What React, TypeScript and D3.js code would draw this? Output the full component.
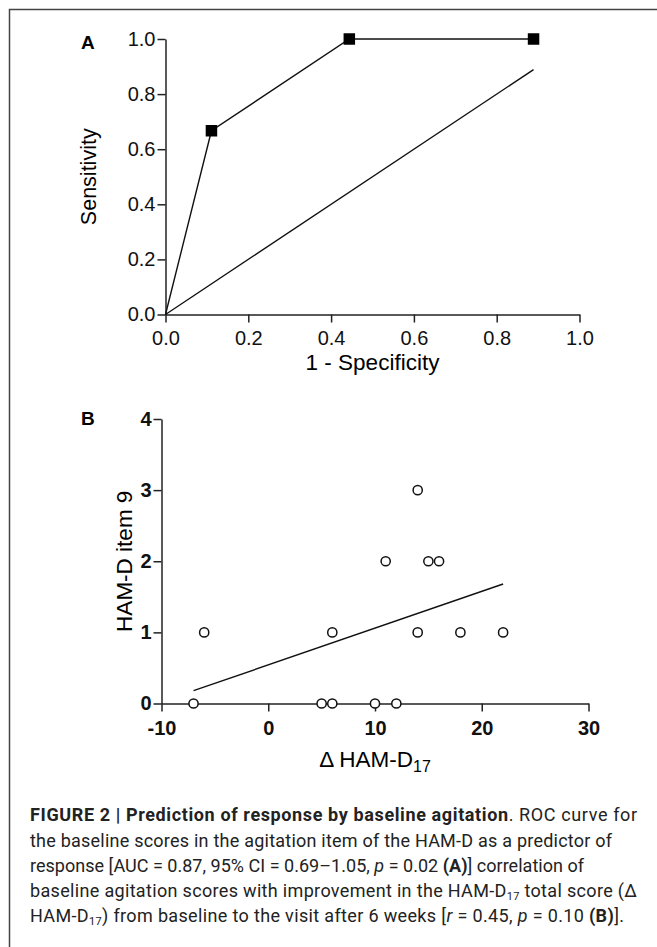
import React, { useEffect, useRef } from 'react';
import * as d3 from 'd3';

// Panel A: ROC curve
const rocFpr = [0, 0.111, 0.444, 0.889];
const rocSens = [0, 0.667, 1.0, 1.0];
const chanceX = [0, 0.889];
const chanceY = [0, 0.889];
const rocTicks = [0, 0.2, 0.4, 0.6, 0.8, 1.0];

// Panel B: scatter of delta HAM-D17 vs item 9
const deltaHam = [-7, -6, 5, 6, 6, 10, 12, 11, 14, 14, 15, 16, 18, 22];
const item9 = [0, 1, 0, 0, 1, 0, 0, 2, 3, 1, 2, 2, 1, 1];
const fitX = [-7, 22];
const fitY = [0.18, 1.68];
const bXTicks = [-10, 0, 10, 20, 30];
const bYTicks = [0, 1, 2, 3, 4];

const W = 657;
const H = 947;
const axisFont = "'Liberation Sans', Arial, Helvetica, sans-serif";
const capFont = "Roboto, 'Liberation Sans', sans-serif";

const App = () => {
    const gRef = useRef(null);

    useEffect(() => {
        const g = d3.select(gRef.current);
        g.selectAll('*').remove();

        // frame (top and left rule)
        g.append('path')
            .attr('d', `M9.5,${H} V9.5 H${W}`)
            .attr('fill', 'none')
            .attr('stroke', '#444')
            .attr('stroke-width', 1.5);

        const styleAxis = (sel, bold) => {
            sel.attr('font-family', axisFont).attr('font-size', 20);
            sel.selectAll('path, line').attr('stroke', '#222').attr('stroke-width', 1.5);
            sel.selectAll('text').attr('fill', '#111').attr('font-weight', bold ? 'bold' : 'normal');
        };

        // ---------- Panel A ----------
        const xA = d3.scaleLinear().domain([0, 1]).range([165.5, 579.5]);
        const yA = d3.scaleLinear().domain([0, 1]).range([314.5, 39]);

        g.append('g')
            .attr('transform', `translate(0,${yA(0)})`)
            .call(d3.axisBottom(xA).tickValues(rocTicks).tickFormat(d3.format('.1f'))
                .tickSize(8).tickSizeOuter(0).tickPadding(8))
            .call(s => styleAxis(s, false));

        g.append('g')
            .attr('transform', `translate(${xA(0)},0)`)
            .call(d3.axisLeft(yA).tickValues(rocTicks).tickFormat(d3.format('.1f'))
                .tickSize(8).tickSizeOuter(0).tickPadding(2))
            .call(s => styleAxis(s, false));

        const lineA = d3.line()
            .x((d, i) => xA(rocFpr[i]))
            .y((d, i) => yA(rocSens[i]));
        g.append('path')
            .attr('d', lineA(rocFpr))
            .attr('fill', 'none')
            .attr('stroke', '#111')
            .attr('stroke-width', 1.4);

        const chance = d3.line()
            .x((d, i) => xA(chanceX[i]))
            .y((d, i) => yA(chanceY[i]));
        g.append('path')
            .attr('d', chance(chanceX))
            .attr('fill', 'none')
            .attr('stroke', '#111')
            .attr('stroke-width', 1.4);

        const sq = 11.5;
        rocFpr.forEach((fx, i) => {
            if (fx === 0) return;
            g.append('rect')
                .attr('x', xA(fx) - sq / 2)
                .attr('y', yA(rocSens[i]) - sq / 2)
                .attr('width', sq)
                .attr('height', sq)
                .attr('fill', '#000');
        });

        g.append('text')
            .attr('x', 81).attr('y', 49)
            .attr('font-family', axisFont).attr('font-size', 19).attr('font-weight', 'bold')
            .text('A');

        g.append('text')
            .attr('transform', `translate(96,${(yA(0) + yA(1)) / 2}) rotate(-90)`)
            .attr('text-anchor', 'middle')
            .attr('font-family', axisFont).attr('font-size', 21.5)
            .text('Sensitivity');

        g.append('text')
            .attr('x', (xA(0) + xA(1)) / 2).attr('y', 370)
            .attr('text-anchor', 'middle')
            .attr('font-family', axisFont).attr('font-size', 22.5)
            .text('1 - Specificity');

        // ---------- Panel B ----------
        const xB = d3.scaleLinear().domain([-10, 30]).range([161.5, 588.5]);
        const yB = d3.scaleLinear().domain([0, 4]).range([703.5, 419]);

        g.append('g')
            .attr('transform', `translate(0,${yB(0)})`)
            .call(d3.axisBottom(xB).tickValues(bXTicks).tickFormat(d => String(d))
                .tickSize(8).tickSizeOuter(0).tickPadding(9))
            .call(s => styleAxis(s, true));

        g.append('g')
            .attr('transform', `translate(${xB(-10)},0)`)
            .call(d3.axisLeft(yB).tickValues(bYTicks).tickFormat(d => String(d))
                .tickSize(8).tickSizeOuter(0).tickPadding(2))
            .call(s => styleAxis(s, true));

        const fit = d3.line()
            .x((d, i) => xB(fitX[i]))
            .y((d, i) => yB(fitY[i]));
        g.append('path')
            .attr('d', fit(fitX))
            .attr('fill', 'none')
            .attr('stroke', '#111')
            .attr('stroke-width', 1.4);

        deltaHam.forEach((dx, i) => {
            g.append('circle')
                .attr('cx', xB(dx))
                .attr('cy', yB(item9[i]))
                .attr('r', 4.6)
                .attr('fill', '#fff')
                .attr('stroke', '#111')
                .attr('stroke-width', 1.5);
        });

        g.append('text')
            .attr('x', 81).attr('y', 425)
            .attr('font-family', axisFont).attr('font-size', 19).attr('font-weight', 'bold')
            .text('B');

        g.append('text')
            .attr('transform', `translate(132,${(yB(0) + yB(4)) / 2}) rotate(-90)`)
            .attr('text-anchor', 'middle')
            .attr('font-family', axisFont).attr('font-size', 22.5)
            .text('HAM-D item 9');

        const xt = g.append('text')
            .attr('x', (xB(-10) + xB(30)) / 2).attr('y', 767)
            .attr('text-anchor', 'middle')
            .attr('font-family', axisFont).attr('font-size', 22.5);
        xt.append('tspan').text('\u0394 HAM-D');
        xt.append('tspan').attr('font-size', 16).attr('dy', 5).text('17');
    }, []);

    return (
        <svg width={W} height={H} style={{ position: 'absolute', left: 0, top: 0, background: '#fff' }}>
            <g ref={gRef} />
            <g fontFamily={capFont} fontSize={18} fill="#222">
                <text x={30} y={821} textLength={607} lengthAdjust="spacing">
                    <tspan fontWeight="bold">FIGURE 2 | Prediction of response by baseline agitation</tspan>
                    <tspan>. ROC curve for</tspan>
                </text>
                <text x={30} y={847} textLength={582} lengthAdjust="spacing">
                    the baseline scores in the agitation item of the HAM-D as a predictor of
                </text>
                <text x={30} y={872} textLength={554} lengthAdjust="spacing">
                    <tspan>response [AUC = 0.87, 95% CI = 0.69–1.05, </tspan>
                    <tspan fontStyle="italic">p</tspan>
                    <tspan> = 0.02 </tspan>
                    <tspan fontWeight="bold">(A)</tspan>
                    <tspan>] correlation of</tspan>
                </text>
                <text x={30} y={897} textLength={607} lengthAdjust="spacing">
                    <tspan>baseline agitation scores with improvement in the HAM-D</tspan>
                    <tspan fontSize={11} dy={3}>17</tspan>
                    <tspan dy={-3}> total score (Δ</tspan>
                </text>
                <text x={30} y={922} textLength={594} lengthAdjust="spacing">
                    <tspan>HAM-D</tspan>
                    <tspan fontSize={11} dy={3}>17</tspan>
                    <tspan dy={-3}>) from baseline to the visit after 6 weeks [</tspan>
                    <tspan fontStyle="italic">r</tspan>
                    <tspan> = 0.45, </tspan>
                    <tspan fontStyle="italic">p</tspan>
                    <tspan> = 0.10 </tspan>
                    <tspan fontWeight="bold">(B)</tspan>
                    <tspan>].</tspan>
                </text>
            </g>
        </svg>
    );
};

export default App;
